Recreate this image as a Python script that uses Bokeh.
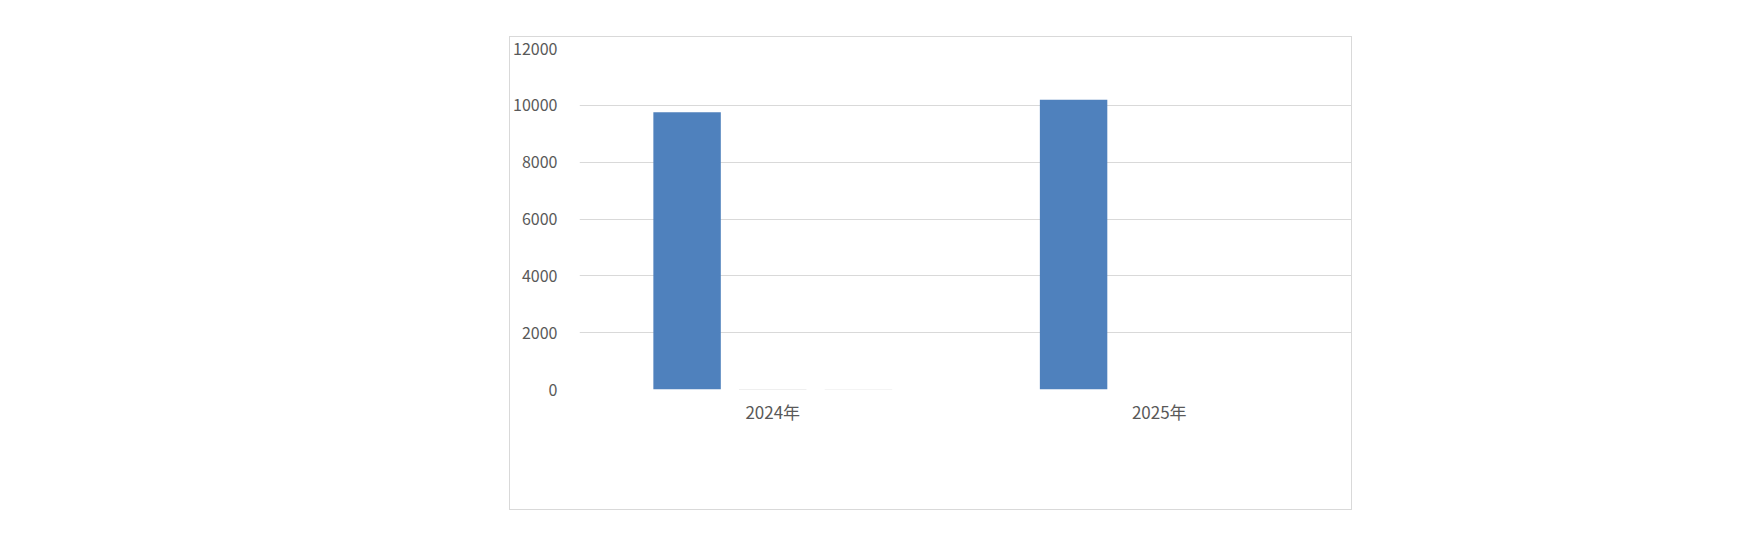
from bokeh.plotting import figure
from bokeh.models import ColumnDataSource, FixedTicker, Range1d, Spacer
from bokeh.layouts import column, row
from bokeh.transform import dodge
from bokeh.embed import file_html
from bokeh.resources import INLINE

years = ["2024年", "2025年"]
series1 = [9760, 10200]
series2 = [15, 0]
series3 = [12, 0]
y_ticks = [0, 2000, 4000, 6000, 8000, 10000, 12000]

src = ColumnDataSource(dict(year=years, s1=series1, s2=series2, s3=series3))

p = figure(x_range=years, y_range=Range1d(0, 12000), width=843, height=474,
           output_backend="svg", toolbar_location=None,
           min_border_left=69, min_border_right=1, min_border_top=11, min_border_bottom=122)
p.styles = {"border": "1px solid #D9D9D9", "box-sizing": "border-box"}

w = 1 / 5.73
off = 1.27 * w
p.vbar(x=dodge("year", -off, range=p.x_range), top="s1", width=w, source=src,
       fill_color="#4F81BD", line_color=None)
p.vbar(x=dodge("year", 0, range=p.x_range), top="s2", width=w, source=src,
       fill_color="#BFBFBF", line_color=None)
p.vbar(x=dodge("year", off, range=p.x_range), top="s3", width=w, source=src,
       fill_color="#A5A5A5", line_color=None)

p.outline_line_color = None
p.xgrid.grid_line_color = None
p.ygrid.grid_line_color = "#D9D9D9"
p.ygrid.grid_line_width = 1
p.yaxis.ticker = FixedTicker(ticks=y_ticks)

for ax in (p.xaxis, p.yaxis):
    ax.axis_line_color = None
    ax.major_tick_line_color = None
    ax.minor_tick_line_color = None
    ax.major_label_text_color = "#595959"
    ax.major_label_text_font = "Noto Sans CJK SC"

p.yaxis.major_label_text_font_size = "16px"
p.xaxis.major_label_text_font_size = "17px"
p.yaxis.major_label_standoff = 16
p.xaxis.major_label_standoff = 3

layout = column(Spacer(height=36), row(Spacer(width=509), p))
open("out.html", "w").write(file_html(layout, INLINE))
